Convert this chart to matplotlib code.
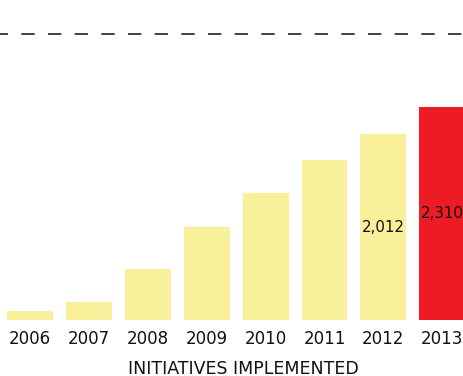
import matplotlib
matplotlib.use("Agg")
import matplotlib.pyplot as plt

# ── Data ──────────────────────────────────────────────────────────────────────
years = ["2006", "2007", "2008", "2009", "2010", "2011", "2012", "2013"]
initiatives = [98, 195, 552, 1007, 1376, 1733, 2012, 2310]
labelled = {"2012": "2,012", "2013": "2,310"}
target = 3100

YELLOW = "#F9F09B"
RED = "#ED1C24"

W, H, DPI = 463, 376, 100
fig = plt.figure(figsize=(W / DPI, H / DPI), dpi=DPI)
ax = fig.add_axes([0, (H - 320) / H, 1, 320 / H])

colors = [RED if y == "2013" else YELLOW for y in years]
x = range(len(years))
ax.bar(x, initiatives, width=0.78, color=colors, zorder=2)

# value labels sit in the middle of the bar
for i, (yr, v) in enumerate(zip(years, initiatives)):
    if yr in labelled:
        ax.text(i, v / 2, labelled[yr], ha="center", va="center",
                fontsize=10.8, color="#111111", clip_on=True)

# dashed target line
ax.axhline(target, color="#222222", lw=1.2, ls=(3.2, (8, 8)), zorder=1)

ax.set_xlim(-30 / 58.9, (W - 30) / 58.9)
ax.set_ylim(0, 320 / 0.0923)
ax.set_xticks(list(x))
ax.set_xticklabels(years, fontsize=12, color="#111111")
ax.tick_params(axis="x", length=0, pad=7)
ax.set_yticks([])
for s in ax.spines.values():
    s.set_visible(False)

fig.text(243 / W, 1 - 374.5 / H, "INITIATIVES IMPLEMENTED", ha="center",
         va="baseline", fontsize=12.5, color="#111111")

fig.savefig("out.png", dpi=DPI)
